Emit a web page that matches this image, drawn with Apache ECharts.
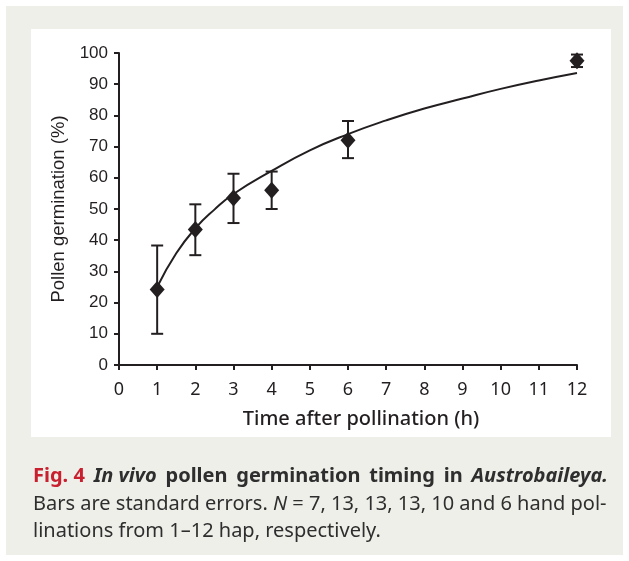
<!DOCTYPE html>
<html>
<head>
<meta charset="utf-8">
<script src="https://cdn.jsdelivr.net/npm/echarts@6/dist/echarts.min.js"></script>
<style>html,body{margin:0;padding:0;background:#fff}#c{width:629px;height:561px}</style>
</head>
<body>
<div id="c"></div>
<script>
// Measured points (hours after pollination, % germination)
const hours = [1, 2, 3, 4, 6, 12];
const germination = [24.2, 43.4, 53.5, 56.0, 72.0, 97.5];
const errLow = [10.0, 35.2, 45.5, 50.0, 66.3, 95.5];
const errHigh = [38.3, 51.5, 61.3, 62.0, 78.2, 99.5];
// Fitted trend curve
const curveX = [1, 1.5, 2, 2.5, 3, 4, 5, 6, 7, 8, 9, 10, 11, 12];
const curveY = [25.0, 35.8, 43.8, 49.8, 54.8, 62.2, 68.8, 74.0, 78.4, 82.2, 85.4, 88.5, 91.2, 93.6];
const xTicks = [0, 12, 1];
const yTicks = [0, 100, 10];

const ink = '#231f20';
const txt = '#2e2e2e';
const chart = echarts.init(document.getElementById('c'), null, {renderer: 'canvas'});

const errData = hours.map((h, i) => [h, errLow[i], errHigh[i]]);
const pts = hours.map((h, i) => [h, germination[i]]);
const curve = curveX.map((x, i) => [x, curveY[i]]);

const capFont = '20px "Noto Sans"';
const capBold = 'bold 20px "Noto Sans"';
const capBI = 'italic bold 20px "Noto Sans"';

// Justified title line
const titleWords = [
  ['Fig. 4', capBold, '#c8202f'],
  ['In vivo', capBI, txt],
  ['pollen', capBold, txt],
  ['germination', capBold, txt],
  ['timing', capBold, txt],
  ['in', capBold, txt],
  ['Austrobaileya.', capBI, txt]
];
const ctx = document.createElement('canvas').getContext('2d');
const widths = titleWords.map(w => { ctx.font = w[1]; return ctx.measureText(w[0]).width; });
const lineL = 33, lineR = 608;
const gap = (lineR - lineL - widths.reduce((a, b) => a + b, 0)) / (titleWords.length - 1);
let cx = lineL;
const titleGraphics = titleWords.map((w, i) => {
  const g = {type: 'text', x: cx, y: 466, style: {text: w[0], fill: w[2], font: w[1]}};
  cx += widths[i] + gap;
  return g;
});

chart.setOption({
  backgroundColor: '#ffffff',
  animation: false,
  graphic: [
    {type: 'rect', z: -20, silent: true, shape: {x: 6, y: 6, width: 617, height: 549}, style: {fill: '#efefea'}},
    {type: 'rect', z: -10, silent: true, shape: {x: 31, y: 29, width: 580, height: 408}, style: {fill: '#ffffff'}}
  ].concat(titleGraphics).concat([
    {type: 'text', left: 33, top: 494, style: {
      text: 'Bars are standard errors. {i|N} = 7, 13, 13, 13, 10 and 6 hand pol-',
      fill: txt, font: capFont,
      rich: {i: {fontStyle: 'italic', fontFamily: 'Noto Sans', fontSize: 20, fill: txt}}
    }},
    {type: 'text', left: 33, top: 521, style: {text: 'linations from 1\u201312 hap, respectively.', fill: txt, font: capFont}}
  ]),
  grid: {left: 119, right: 52, top: 53, bottom: 196, containLabel: false},
  xAxis: {
    type: 'value', min: xTicks[0], max: xTicks[1], interval: xTicks[2],
    name: 'Time after pollination (h)', nameLocation: 'middle', nameGap: 44,
    nameTextStyle: {color: ink, fontFamily: 'Noto Sans', fontSize: 20, fontWeight: 500, padding: [0, 0, 0, 26]},
    axisLine: {lineStyle: {color: ink, width: 2}},
    axisTick: {length: 5, lineStyle: {color: ink, width: 2}},
    axisLabel: {color: ink, fontFamily: 'Noto Sans', fontSize: 18, margin: 16},
    splitLine: {show: false}
  },
  yAxis: {
    type: 'value', min: yTicks[0], max: yTicks[1], interval: yTicks[2],
    name: 'Pollen germination (%)', nameLocation: 'middle', nameGap: 43,
    nameTextStyle: {color: ink, fontFamily: 'Liberation Sans', fontSize: 18.5},
    axisLine: {show: true, lineStyle: {color: ink, width: 2}},
    axisTick: {show: true, length: 5, lineStyle: {color: ink, width: 2}},
    axisLabel: {color: ink, fontFamily: 'Liberation Sans', fontSize: 17, margin: 11},
    splitLine: {show: false}
  },
  series: [
    {
      type: 'line', data: curve, smooth: true, showSymbol: false, symbol: 'none',
      lineStyle: {color: ink, width: 2}, z: 2
    },
    {
      type: 'custom', data: errData, z: 3,
      renderItem: function (params, api) {
        const x = api.value(0);
        const lo = api.coord([x, api.value(1)]);
        const hi = api.coord([x, api.value(2)]);
        const cw = 6;
        const st = {stroke: ink, lineWidth: 2};
        return {type: 'group', children: [
          {type: 'line', shape: {x1: lo[0], y1: lo[1], x2: hi[0], y2: hi[1]}, style: st},
          {type: 'line', shape: {x1: lo[0] - cw, y1: lo[1], x2: lo[0] + cw, y2: lo[1]}, style: st},
          {type: 'line', shape: {x1: hi[0] - cw, y1: hi[1], x2: hi[0] + cw, y2: hi[1]}, style: st}
        ]};
      }
    },
    {
      type: 'scatter', data: pts, symbol: 'diamond', symbolSize: [15, 17], z: 4,
      itemStyle: {color: ink, opacity: 1}
    }
  ]
});
</script>
</body>
</html>
